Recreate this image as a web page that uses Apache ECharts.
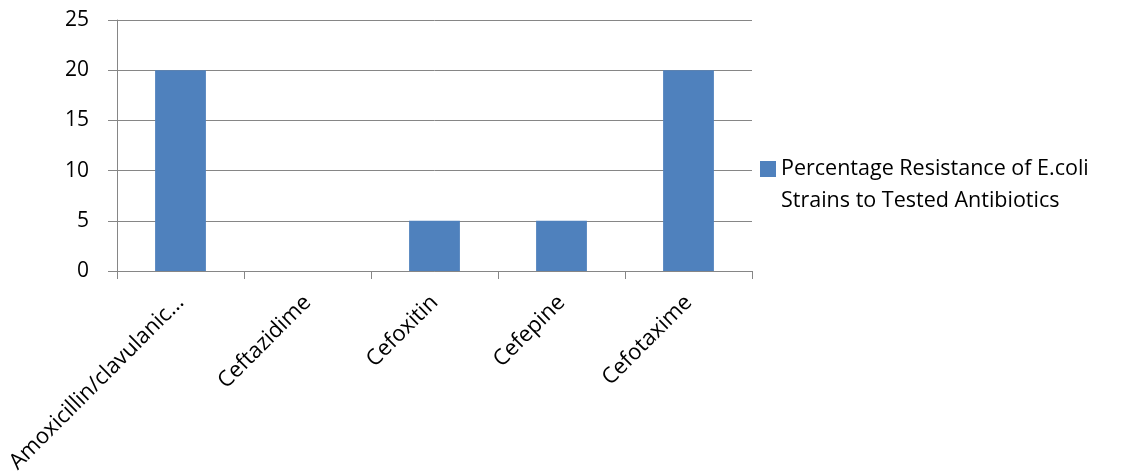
<!DOCTYPE html>
<html>
<head>
<meta charset="utf-8">
<script src="https://cdn.jsdelivr.net/npm/echarts@6/dist/echarts.min.js"></script>
<style>
  html, body { margin: 0; padding: 0; background: #fff; }
  #chart { width: 1124px; height: 474px; }
</style>
</head>
<body>
<div id="chart"></div>
<script>
// Antibiotics tested and the share of resistant E.coli strains (%)
const categories = ['Amoxicillin/clavulanic...', 'Ceftazidime', 'Cefoxitin', 'Cefepine', 'Cefotaxime'];
const resistance = [20, 0, 5, 5, 20];
const seriesName = 'Percentage Resistance of E.coli Strains to Tested Antibiotics';
const legendLines = ['Percentage Resistance of E.coli', 'Strains to Tested Antibiotics'];

const FONT = '"Open Sans", sans-serif';
const AXIS_GREY = '#868686';
const BAR_BLUE = '#4F81BD';

const chart = echarts.init(document.getElementById('chart'), null, { renderer: 'canvas' });
chart.setOption({
  animation: false,
  grid: {
    left: 117, right: 372, top: 20, bottom: 203,
    containLabel: false, outerBoundsMode: 'none'
  },
  legend: {
    left: 760, top: 158, padding: 0, orient: 'vertical',
    itemWidth: 16, itemHeight: 16,
    icon: 'rect',
    textStyle: { fontFamily: FONT, fontSize: 21.5, color: '#000' },
    formatter: () => legendLines[0]
  },
  graphic: [{
    // second line of the wrapped legend entry
    type: 'text',
    x: 781, y: 201,
    style: { text: legendLines[1], font: '21.5px ' + FONT, fill: '#000', verticalAlign: 'middle' }
  }],
  xAxis: {
    type: 'category',
    data: categories,
    axisLine: { lineStyle: { color: AXIS_GREY, width: 1 } },
    axisTick: { show: true, length: 8, alignWithLabel: false, lineStyle: { color: AXIS_GREY } },
    axisLabel: {
      rotate: 45, interval: 0, margin: 28,
      fontFamily: FONT, fontSize: 22, color: '#000'
    }
  },
  yAxis: {
    type: 'value', min: 0, max: 25, interval: 5,
    axisLine: { show: true, lineStyle: { color: AXIS_GREY, width: 1 } },
    axisTick: { show: true, length: 9, lineStyle: { color: AXIS_GREY } },
    splitLine: { show: true, lineStyle: { color: AXIS_GREY, width: 1 } },
    axisLabel: { margin: 28, fontFamily: FONT, fontSize: 21, color: '#000' }
  },
  series: [{
    name: seriesName,
    type: 'bar',
    data: resistance,
    barWidth: '40%',
    itemStyle: { color: BAR_BLUE }
  }]
});
</script>
</body>
</html>
